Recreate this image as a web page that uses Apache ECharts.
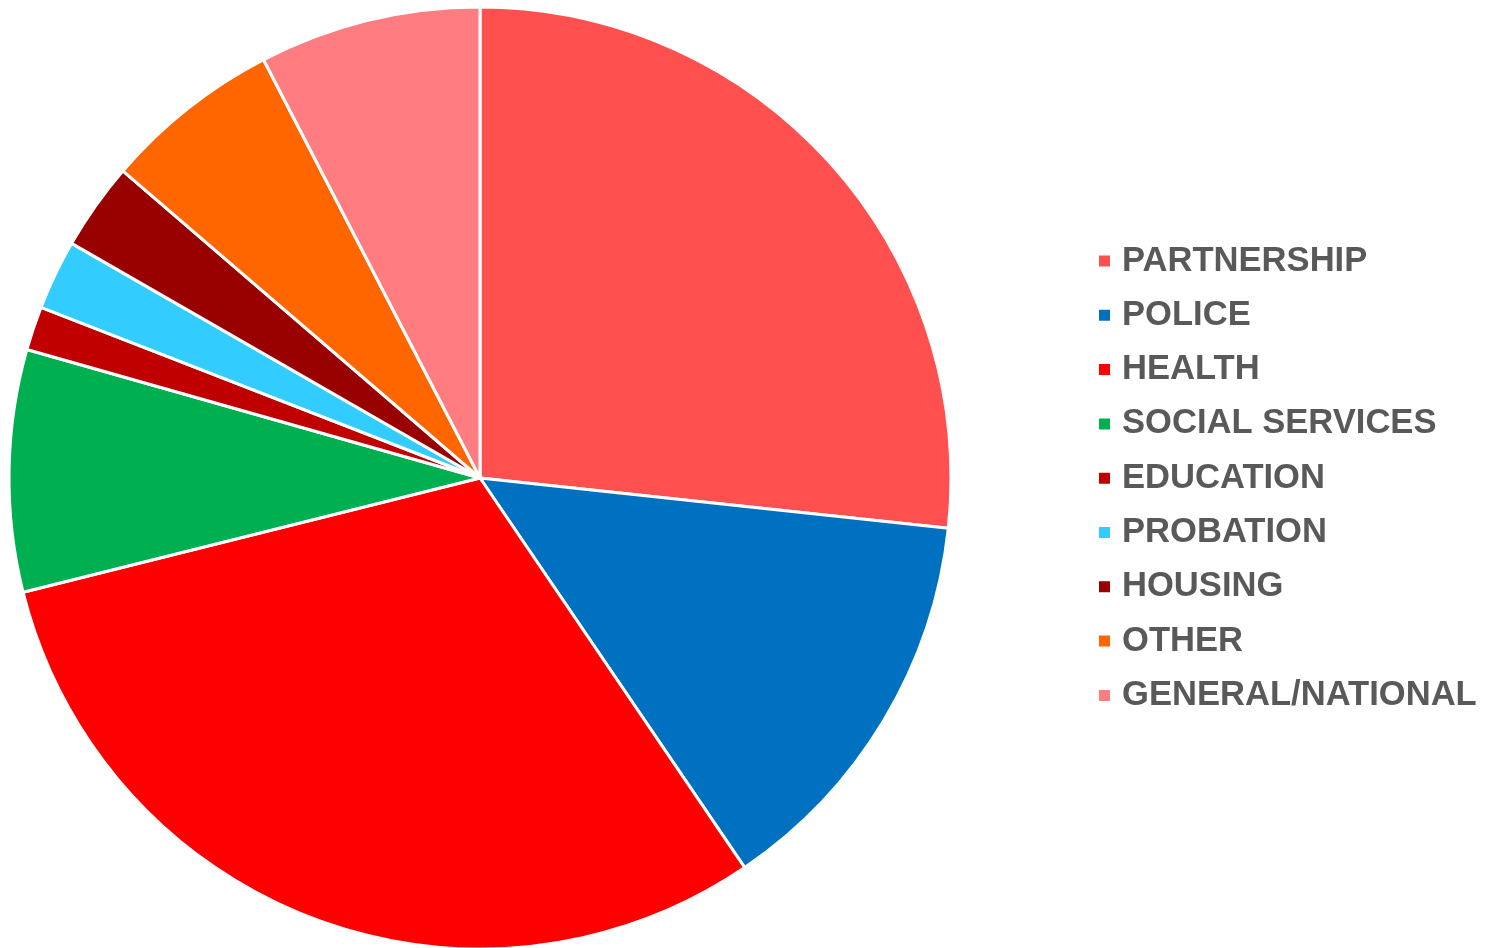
<!DOCTYPE html>
<html><head><meta charset="utf-8">
<script src="https://cdn.jsdelivr.net/npm/echarts@6/dist/echarts.min.js"></script>
<style>html,body{margin:0;padding:0;background:#fff}#c{width:1494px;height:948px}</style>
</head><body><div id="c"></div>
<script>
const categories = ["PARTNERSHIP","POLICE","HEALTH","SOCIAL SERVICES","EDUCATION","PROBATION","HOUSING","OTHER","GENERAL/NATIONAL"];
const values = [26.7, 13.8, 30.6, 8.3, 1.5, 2.4, 3.0, 6.1, 7.6];
const colors = ["#FF5050","#0070C0","#FF0000","#00B050","#C00000","#33CCFF","#990000","#FF6600","#FF7C80"];

const chart = echarts.init(document.getElementById('c'), null, {renderer:'canvas'});
chart.setOption({
  animation: false,
  backgroundColor: '#fff',
  color: colors,
  legend: {
    orient: 'vertical',
    left: 1092,
    top: 236,
    icon: 'rect',
    itemWidth: 13,
    itemHeight: 13,
    itemGap: 14.3,
    textStyle: {
      fontFamily: 'Liberation Sans, Arial, sans-serif',
      fontWeight: 'bold',
      fontSize: 34.6,
      lineHeight: 40,
      color: '#595959',
      padding: [0,0,0,6]
    },
    data: categories
  },
  series: [{
    type: 'pie',
    center: [480, 478],
    radius: 471,
    startAngle: 90,
    clockwise: true,
    label: {show: false},
    labelLine: {show: false},
    itemStyle: {borderColor: '#fff', borderWidth: 3},
    emphasis: {disabled: true},
    data: categories.map((n,i)=>({name:n, value:values[i]}))
  }]
});
</script></body></html>
